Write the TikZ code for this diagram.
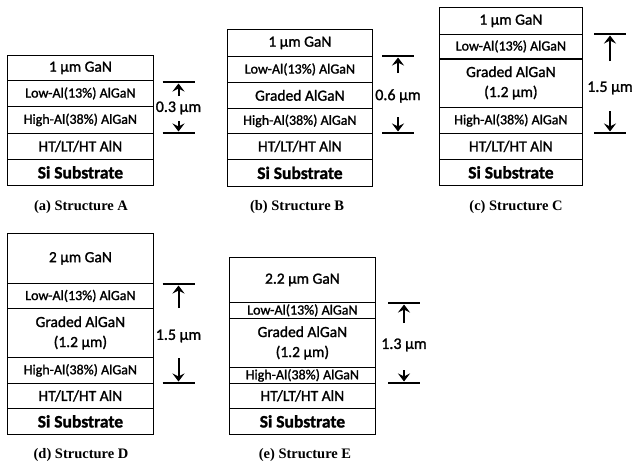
\documentclass[tikz,border=0pt]{standalone}
\usepackage{fontspec}
\setmainfont{Liberation Serif}
\newfontfamily\calfont{Carlito}[FakeBold=1.4]
\usetikzlibrary{arrows.meta}

\newcommand{\smallfont}{\calfont\fontsize{14}{15}\selectfont}
\newcommand{\midfont}{\calfont\fontsize{15.5}{20}\selectfont}
\newcommand{\subsfont}{\calfont\bfseries\fontsize{17.5}{20}\selectfont}

\tikzset{
	layer/.style={draw, line width=0.8pt, anchor=north west, inner sep=0pt, align=center},
	bar/.style={line width=2pt},
	dimarrow/.style={line width=2pt, -{Stealth[length=8pt,width=12pt,inset=3pt]}},
	dimlabel/.style={font=\calfont\fontsize{16}{18}\selectfont, inner sep=0pt},
	caption/.style={font=\bfseries\fontsize{14.5}{16}\selectfont}
}

\begin{document}
\begin{tikzpicture}[x=1pt, y=-1pt]
		\useasboundingbox (0,0) rectangle (637,466);
		% (a) structure A
		\foreach \y/\h/\txt/\f [count=\i] in {
			55/25/{1 µm GaN}/\midfont,
			80/26/{Low-Al(13\%) AlGaN}/\smallfont,
			106/27/{High-Al(38\%) AlGaN}/\smallfont,
			133/26/{HT/LT/HT AlN}/\midfont,
			159/26/{Si Substrate}/\subsfont
		}{
		\node[layer, minimum width=146pt, minimum height=\h pt, font=\f] (A\i) at (7,\y) {\txt};
		}
		% (b) structure B
		\foreach \y/\h/\txt/\f [count=\i] in {
			29/27/{1 µm GaN}/\midfont,
			56/26/{Low-Al(13\%) AlGaN}/\smallfont,
			82/26/{Graded AlGaN}/\midfont,
			108/25/{High-Al(38\%) AlGaN}/\smallfont,
			133/26/{HT/LT/HT AlN}/\midfont,
			159/27/{Si Substrate}/\subsfont
		}{
		\node[layer, minimum width=145pt, minimum height=\h pt, font=\f] (B\i) at (227,\y) {\txt};
		}
		% (c) structure C
		\foreach \y/\h/\txt/\f [count=\i] in {
			7/27/{1 µm GaN}/\midfont,
			34/24/{Low-Al(13\%) AlGaN}/\smallfont,
			58/49/{Graded AlGaN\\(1.2 µm)}/\midfont,
			107/26/{High-Al(38\%) AlGaN}/\smallfont,
			133/26/{HT/LT/HT AlN}/\midfont,
			159/26/{Si Substrate}/\subsfont
		}{
		\node[layer, minimum width=143pt, minimum height=\h pt, font=\f] (C\i) at (439,\y) {\txt};
		}
		\draw[line width=2pt] (C2.south west) -- (C2.south east);
		% (d) structure D
		\foreach \y/\h/\txt/\f [count=\i] in {
			233/50/{2 µm GaN}/\midfont,
			283/25/{Low-Al(13\%) AlGaN}/\smallfont,
			308/49/{Graded AlGaN\\(1.2 µm)}/\midfont,
			357/26/{High-Al(38\%) AlGaN}/\smallfont,
			383/25/{HT/LT/HT AlN}/\midfont,
			408/26/{Si Substrate}/\subsfont
		}{
		\node[layer, minimum width=146pt, minimum height=\h pt, font=\f] (D\i) at (7,\y) {\txt};
		}
		% (e) structure E
		\foreach \y/\h/\txt/\f [count=\i] in {
			257/45/{2.2 µm GaN}/\midfont,
			302/16/{Low-Al(13\%) AlGaN}/\smallfont,
			318/49/{Graded AlGaN\\(1.2 µm)}/\midfont,
			367/16/{High-Al(38\%) AlGaN}/\smallfont,
			383/25/{HT/LT/HT AlN}/\midfont,
			408/26/{Si Substrate}/\subsfont
		}{
		\node[layer, minimum width=146pt, minimum height=\h pt, font=\f] (E\i) at (229,\y) {\txt};
		}
		% thickness markers
		\foreach \n/\x/\yt/\yb/\yl/\st/\sb/\txt in {
			A/178.5/82/133/108/12/13/{0.3 µm},
			B/398/56/133/96/23/21/{0.6 µm},
			C/610/34/133/88/27/23/{1.5 µm},
			D/178.5/284/383/336/28/22/{1.5 µm},
			E/404/303/383/345/22/25/{1.3 µm}
		}{
		\coordinate (\n-top) at (\x,\yt);
		\coordinate (\n-bot) at (\x,\yb);
		\draw[bar] ([xshift=-16pt]\n-top) -- ([xshift=16pt]\n-top);
		\draw[bar] ([xshift=-16pt]\n-bot) -- ([xshift=16pt]\n-bot);
		\node[dimlabel] (\n-lbl) at (\x,\yl) {\txt};
		\draw[dimarrow, shorten <=\st pt, shorten >=1.5pt] (\n-lbl.center) -- (\n-top);
		\draw[dimarrow, shorten <=\sb pt, shorten >=1.5pt] (\n-lbl.center) -- (\n-bot);
		}
		% captions
		\foreach \x/\y/\txt in {
			81/207/{(a) Structure A},
			297/207/{(b) Structure B},
			516/207/{(c) Structure C},
			81/455/{(d) Structure D},
			305/455/{(e) Structure E}
		}{
		\node[caption] at (\x,\y) {\txt};
		}
		\end{tikzpicture}
\end{document}
